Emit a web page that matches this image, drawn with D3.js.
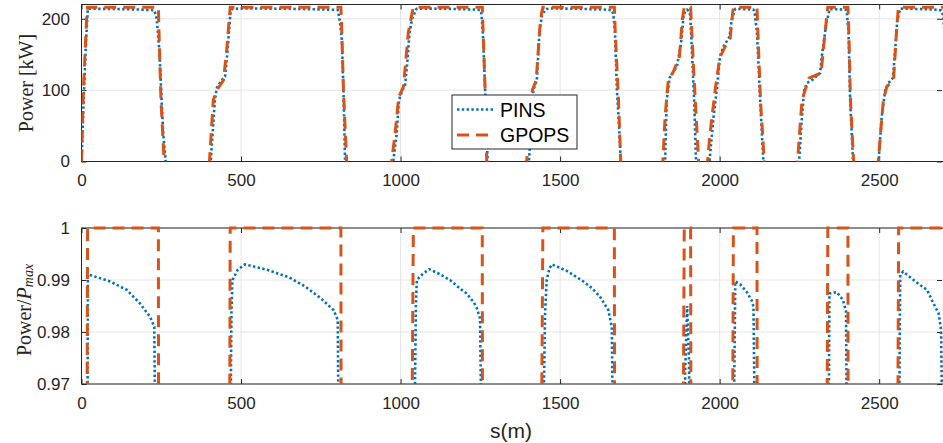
<!DOCTYPE html>
<html>
<head>
<meta charset="utf-8">
<script src="https://cdn.jsdelivr.net/npm/d3@7"></script>
<style>
  body { margin: 0; background: #fff; }
  .tick text { fill: #262626; font-family: "Liberation Sans", Arial, sans-serif; font-size: 17px; }
  .tick line { stroke: #262626; }
</style>
</head>
<body>
<div id="chart"></div>
<script>
// Tick values and series names
var sTicks = [0, 500, 1000, 1500, 2000, 2500];
var powerTicks = [0, 100, 200];
var ratioTicks = [0.97, 0.98, 0.99, 1];
var seriesNames = ["PINS", "GPOPS"];
var pMax = 216; // kW

// PINS power profile, [s (m), power (kW)]
var pinsPower = [
  [0, 0], [8, 100], [13, 156], [18, 200], [19, 209], [20, 214.06], [24, 214.06], [89, 213.78],
  [142, 213.43], [183, 212.87], [215, 212.31], [228, 211.9], [233, 205], [236, 199], [244, 156],
  [251, 86], [256, 40], [264, 0], [268, -40],
  [395, -40], [405, 0], [418, 86], [424, 103], [439, 114], [450, 119], [458, 156], [465, 199],
  [467, 208], [470, 212.5], [473, 213.84], [490, 214.27], [512, 214.49], [580, 214.27],
  [650, 213.95], [700, 213.58], [750, 213.08], [790, 212.59], [803, 212.18], [805, 209],
  [810, 195], [816, 170], [821, 100], [826, 0], [830, -40],
  [967, -40], [977, 0], [988, 40], [995, 86], [1004, 98], [1014, 107], [1020, 133], [1028, 180],
  [1036, 200], [1044, 208], [1048, 212.8], [1051, 213.84], [1070, 214.1], [1090, 214.29],
  [1120, 214.1], [1155, 213.84], [1185, 213.5], [1207, 213.28], [1230, 212.9], [1239, 212.67],
  [1249, 212.24], [1253, 208], [1258, 180], [1265, 100], [1273, 0], [1277, -40],
  [1392, -40], [1402, 0], [1410, 50], [1416, 100], [1427, 114], [1435, 180], [1443, 205],
  [1450, 210], [1453, 212.5], [1458, 213.84], [1466, 214.3], [1474, 214.49], [1521, 214.22],
  [1573, 213.78], [1600, 213.5], [1625, 213.15], [1651, 212.59], [1662, 211.9], [1667, 206],
  [1672, 180], [1678, 100], [1686, 40], [1690, 0], [1694, -40],
  [1820, -40], [1829, 0], [1834, 86], [1843, 117], [1866, 133], [1879, 166], [1887, 204],
  [1892, 210], [1898, 212.76], [1904, 210.5], [1908, 204], [1913, 156], [1920, 86], [1926, 0],
  [1930, -40],
  [1960, -40], [1968, 0], [1981, 63], [1991, 100], [2001, 147], [2012, 161], [2031, 175],
  [2038, 199], [2046, 210], [2049, 213.78], [2064, 213.67], [2085, 213.34], [2100, 213.0],
  [2106, 212.74], [2110, 208], [2117, 180], [2127, 86], [2137, 0], [2141, -40],
  [2240, -40], [2249, 0], [2258, 63], [2265, 100], [2273, 110], [2289, 114], [2315, 124],
  [2320, 147], [2336, 199], [2341, 205], [2344, 213.28], [2367, 213.34], [2386, 213.02],
  [2396, 212.55], [2399, 207], [2404, 180], [2409, 86], [2418, 0], [2422, -40],
  [2490, -40], [2498, 0], [2508, 63], [2519, 100], [2529, 110], [2543, 117], [2550, 156],
  [2557, 199], [2562, 207], [2566, 214.06], [2575, 214.19], [2629, 213.62], [2650, 213.43],
  [2670, 212.87], [2686, 212.46], [2694, 211.77], [2700, 205], [2705, 180]
];

// GPOPS power profile, [s (m), power (kW)]
var gpopsPower = [
  [0, 0], [6, 100], [16, 200], [19, 216], [241, 216], [243, 180], [249, 86], [259, 0], [263, -40],
  [391, -40], [401, 0], [413, 86], [424, 100], [445, 114], [455, 156], [464, 205], [466, 216],
  [813, 216], [816, 180], [821, 100], [831, 0], [835, -40],
  [962, -40], [972, 0], [983, 40], [994, 90], [1009, 105], [1024, 180], [1036, 208], [1040, 216],
  [1256, 216], [1259, 180], [1265, 100], [1270, 0], [1274, -40],
  [1385, -40], [1395, 0], [1405, 50], [1413, 100], [1425, 114], [1437, 190], [1442, 208],
  [1446, 216], [1670, 216], [1673, 180], [1683, 86], [1690, 0], [1694, -40],
  [1812, -40], [1822, 0], [1829, 63], [1839, 114], [1855, 126], [1874, 147], [1883, 199],
  [1889, 216], [1909, 216], [1913, 180], [1918, 133], [1934, 0], [1938, -40],
  [1952, -40], [1962, 0], [1970, 40], [1986, 100], [2000, 145], [2017, 161], [2033, 173],
  [2040, 205], [2043, 216], [2117, 216], [2120, 180], [2128, 86], [2140, 0], [2144, -40],
  [2234, -40], [2244, 0], [2258, 86], [2280, 117], [2318, 124], [2327, 166], [2336, 205],
  [2339, 216], [2402, 216], [2405, 180], [2410, 86], [2420, 0], [2424, -40],
  [2487, -40], [2497, 0], [2513, 86], [2524, 105], [2545, 114], [2554, 180], [2559, 210],
  [2561, 216], [2700, 216]
];

var colors = { PINS: "#0072BD", GPOPS: "#D95319" };
var dashes = { PINS: "2.4,2.4", GPOPS: "12,7" };
var widths = { PINS: 2.6, GPOPS: 3 };
var dataByName = { PINS: pinsPower, GPOPS: gpopsPower };

// SVG size and panel positions
var svgWidth = 943;
var svgHeight = 443;
var plotLeft = 81.5, plotRight = 943;

var svg = d3.select("#chart")
  .append("svg")
  .attr("width", svgWidth)
  .attr("height", svgHeight)
  .style("display", "block");

var xScale = d3.scaleLinear().domain([0, 2700]).range([plotLeft, plotRight]);
var yTop = d3.scaleLinear().domain([0, 220]).range([161.5, 4.5]);
var yBottom = d3.scaleLinear().domain([0.97, 1]).range([384, 228]);

var panels = [
  { y: yTop, ticks: powerTicks, value: d => d[1], clipTop: 4.5, id: "clipTop" },
  { y: yBottom, ticks: ratioTicks, value: d => d[1] / pMax, clipTop: 225, id: "clipBottom" }
];

var fmt = d => String(d);

panels.forEach(function(p) {
  var top = p.y.range()[1], bottom = p.y.range()[0];
  var g = svg.append("g");

  // grid
  g.selectAll(".gx").data(sTicks).enter().append("line")
    .attr("x1", d => xScale(d)).attr("x2", d => xScale(d))
    .attr("y1", top).attr("y2", bottom)
    .attr("stroke", "#e5e5e5").attr("stroke-width", 1);
  g.selectAll(".gy").data(p.ticks).enter().append("line")
    .attr("x1", plotLeft).attr("x2", plotRight)
    .attr("y1", d => p.y(d)).attr("y2", d => p.y(d))
    .attr("stroke", "#e5e5e5").attr("stroke-width", 1);

  // axes with inward ticks
  g.append("g").attr("transform", `translate(0, ${bottom})`)
    .call(d3.axisBottom(xScale).tickValues(sTicks).tickFormat(fmt).tickSizeInner(-5).tickSizeOuter(0).tickPadding(12.5))
    .call(a => a.select(".domain").remove());
  g.append("g").attr("transform", `translate(0, ${top})`)
    .call(d3.axisTop(xScale).tickValues(sTicks).tickFormat("").tickSizeInner(-5).tickSizeOuter(0))
    .call(a => a.select(".domain").remove());
  g.append("g").attr("transform", `translate(${plotLeft}, 0)`)
    .call(d3.axisLeft(p.y).tickValues(p.ticks).tickFormat(fmt).tickSizeInner(-5).tickSizeOuter(0).tickPadding(11.5))
    .call(a => a.select(".domain").remove());
  g.append("g").attr("transform", `translate(${plotRight - 1}, 0)`)
    .call(d3.axisRight(p.y).tickValues(p.ticks).tickFormat("").tickSizeInner(-5).tickSizeOuter(0))
    .call(a => a.select(".domain").remove());

  // box
  g.append("rect")
    .attr("x", plotLeft).attr("y", top)
    .attr("width", plotRight - plotLeft + 2).attr("height", bottom - top)
    .attr("fill", "none").attr("stroke", "#262626").attr("stroke-width", 1);

  // clip
  svg.append("clipPath").attr("id", p.id).append("rect")
    .attr("x", plotLeft).attr("y", p.clipTop)
    .attr("width", plotRight - plotLeft).attr("height", bottom - p.clipTop);

  var line = d3.line().x(d => xScale(d[0])).y(d => p.y(p.value(d)));

  var lg = svg.append("g").attr("clip-path", `url(#${p.id})`);
  seriesNames.forEach(function(name) {
    lg.append("path")
      .datum(dataByName[name])
      .attr("d", line)
      .attr("fill", "none")
      .attr("stroke", colors[name])
      .attr("stroke-width", widths[name])
      .attr("stroke-dasharray", dashes[name]);
  });
});

// y labels
svg.append("text")
  .attr("transform", "translate(33, 83) rotate(-90)")
  .attr("text-anchor", "middle")
  .style("font-family", "'Liberation Serif', 'DejaVu Serif', serif")
  .style("font-size", "20px")
  .attr("fill", "#262626")
  .text("Power [kW]");

var yl = svg.append("text")
  .attr("transform", "translate(31, 310) rotate(-90)")
  .attr("text-anchor", "middle")
  .style("font-family", "'Liberation Serif', 'DejaVu Serif', serif")
  .style("font-size", "20px")
  .attr("fill", "#262626");
yl.append("tspan").text("Power/");
yl.append("tspan").style("font-style", "italic").text("P");
yl.append("tspan").style("font-style", "italic").style("font-size", "14px").attr("dy", 2).text("max");

// x label
svg.append("text")
  .attr("x", 511).attr("y", 438)
  .attr("text-anchor", "middle")
  .style("font-family", "'Liberation Sans', Arial, sans-serif")
  .style("font-size", "21px")
  .attr("fill", "#262626")
  .text("s(m)");

// legend
var legend = svg.append("g");
legend.append("rect")
  .attr("x", 452).attr("y", 95).attr("width", 125).attr("height", 54)
  .attr("fill", "#fff").attr("stroke", "#262626").attr("stroke-width", 1);
seriesNames.forEach(function(name, i) {
  var ly = 109.5 + i * 25.5;
  legend.append("line")
    .attr("x1", 457).attr("x2", 495).attr("y1", ly).attr("y2", ly)
    .attr("stroke", colors[name]).attr("stroke-width", widths[name])
    .attr("stroke-dasharray", dashes[name]);
  legend.append("text")
    .attr("x", 500).attr("y", ly + 7)
    .style("font-family", "'Liberation Sans', Arial, sans-serif")
    .style("font-size", "19.5px")
    .attr("fill", "#000")
    .text(name);
});
</script>
</body>
</html>
